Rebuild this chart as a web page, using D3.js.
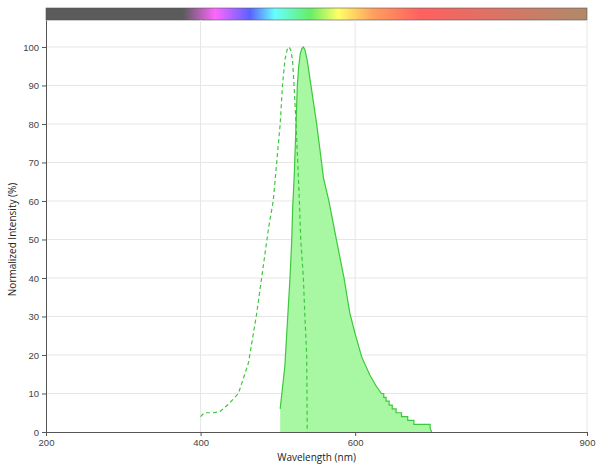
<!DOCTYPE html>
<html>
<head>
<meta charset="utf-8">
<script src="https://cdn.jsdelivr.net/npm/d3@7"></script>
<style>
  body { margin: 0; background: #fff; }
  svg { font-family: "Open Sans", sans-serif; }
  .axis text { fill: #444; font-size: 9.5px; }
  .axis path, .axis line { stroke: #555; }
  .grid line { stroke: #e6e6e6; }
</style>
</head>
<body>
<div id="chart"></div>
<script>
// excitation (dashed) spectrum: wavelength, normalized intensity
const exWave = [400, 405, 416, 425, 435, 449, 462, 472, 479, 488, 494, 498.5, 503, 506, 509, 512, 514.5, 517, 519, 521, 523.5, 525.7, 527.8, 529.6, 533, 535, 537.3, 538];
const exValue = [4, 5, 5, 5.3, 7, 10, 18, 30, 40, 53, 60, 70, 80, 90, 96.5, 99.3, 100, 99, 96.5, 90, 80, 70, 60, 50, 40, 30, 20, 0];

// emission (filled) spectrum
const emWave = [503, 509, 515.7, 518, 519.2, 521.3, 523.5, 525.2, 527, 529, 531, 533, 535, 538, 542.8, 550.2, 555, 559, 566, 575.7, 585.6, 593, 600, 608.5, 619, 627, 634,
    637, 637, 640, 640, 644, 644, 648, 648, 653, 653, 660, 660, 668, 668, 676, 676, 697, 697, 699];
const emValue = [6, 17, 40, 50, 58.5, 67, 80, 90, 95, 98.2, 99.6, 100, 99.3, 96.5, 90, 80, 72.5, 66, 60, 50, 40, 31, 25.5, 19.5, 14.8, 12, 10,
    10, 9, 9, 8, 8, 7, 7, 6, 6, 5, 5, 4, 4, 3, 3, 2, 2, 1, 0];

// wavelength colour bar stops
const barStops = [200, 377, 419, 464, 496, 542, 578, 623, 684, 900];
const barColors = ["#5b5b5b", "#5b5b5b", "#ff66ff", "#5a62ff", "#66ffff", "#66ee66", "#ffff66", "#ffa05e", "#ff6060", "#b08a6a"];

const xTicks = [200, 400, 600, 900];
const yTicks = [0, 10, 20, 30, 40, 50, 60, 70, 80, 90, 100];

const margin = { top: 20, right: 13, bottom: 36, left: 46 };
const width = 600 - margin.left - margin.right;
const height = 468 - margin.top - margin.bottom;

const svg = d3.select("#chart").append("svg")
    .attr("width", 600)
    .attr("height", 468);

const g = svg.append("g")
    .attr("transform", "translate(" + margin.left + "," + margin.top + ")");

const x = d3.scaleLinear().domain([200, 900]).range([0, width]);
const y = d3.scaleLinear().domain([0, 107]).range([height, 0]);

// colour bar
const defs = svg.append("defs");
const grad = defs.append("linearGradient")
    .attr("id", "spectrum")
    .attr("x1", "0%").attr("x2", "100%");
grad.selectAll("stop")
    .data(barStops)
    .join("stop")
    .attr("offset", d => ((d - 200) / 700 * 100) + "%")
    .attr("stop-color", (d, i) => barColors[i]);

g.append("rect")
    .attr("x", x(200))
    .attr("y", -12)
    .attr("width", x(900) - x(200))
    .attr("height", 12)
    .attr("fill", "url(#spectrum)")
    .attr("stroke", "#555")
    .attr("stroke-width", 0.6);

// grid
g.append("g")
    .attr("class", "grid")
    .selectAll("line")
    .data(yTicks.slice(1))
    .join("line")
    .attr("x1", 0).attr("x2", width)
    .attr("y1", d => y(d)).attr("y2", d => y(d));

g.append("g")
    .attr("class", "grid")
    .selectAll("line")
    .data(xTicks.slice(1))
    .join("line")
    .attr("x1", d => x(d)).attr("x2", d => x(d))
    .attr("y1", 0).attr("y2", height);

const em = emWave.map((w, i) => ({ w: w, v: emValue[i] }));
const ex = exWave.map((w, i) => ({ w: w, v: exValue[i] }));

// emission area + outline
g.append("path")
    .datum(em)
    .attr("fill", "#a8f7a2")
    .attr("stroke", "none")
    .attr("d", d3.area().x(d => x(d.w)).y0(y(0)).y1(d => y(d.v)));

g.append("path")
    .datum(em)
    .attr("fill", "none")
    .attr("stroke", "#3cc83c")
    .attr("stroke-width", 1.2)
    .attr("d", d3.line().x(d => x(d.w)).y(d => y(d.v)));

// excitation dashed
g.append("path")
    .datum(ex)
    .attr("fill", "none")
    .attr("stroke", "#3cc83c")
    .attr("stroke-width", 1.2)
    .attr("stroke-dasharray", "4,3")
    .attr("d", d3.line().x(d => x(d.w)).y(d => y(d.v)));

// axes
g.append("g")
    .attr("class", "axis")
    .attr("transform", "translate(0," + height + ")")
    .call(d3.axisBottom(x).tickValues(xTicks).tickSize(4).tickSizeOuter(0));

g.append("g")
    .attr("class", "axis")
    .call(d3.axisLeft(y).tickValues(yTicks).tickSize(4).tickSizeOuter(0));

svg.append("text")
    .attr("x", margin.left + x(550))
    .attr("y", 461)
    .attr("text-anchor", "middle")
    .attr("font-size", 10)
    .attr("fill", "#222")
    .text("Wavelength (nm)");

svg.append("text")
    .attr("transform", "translate(16," + (margin.top + y(50)) + ") rotate(-90)")
    .attr("text-anchor", "middle")
    .attr("font-size", 10)
    .attr("fill", "#222")
    .text("Normalized Intensity (%)");
</script>
</body>
</html>
